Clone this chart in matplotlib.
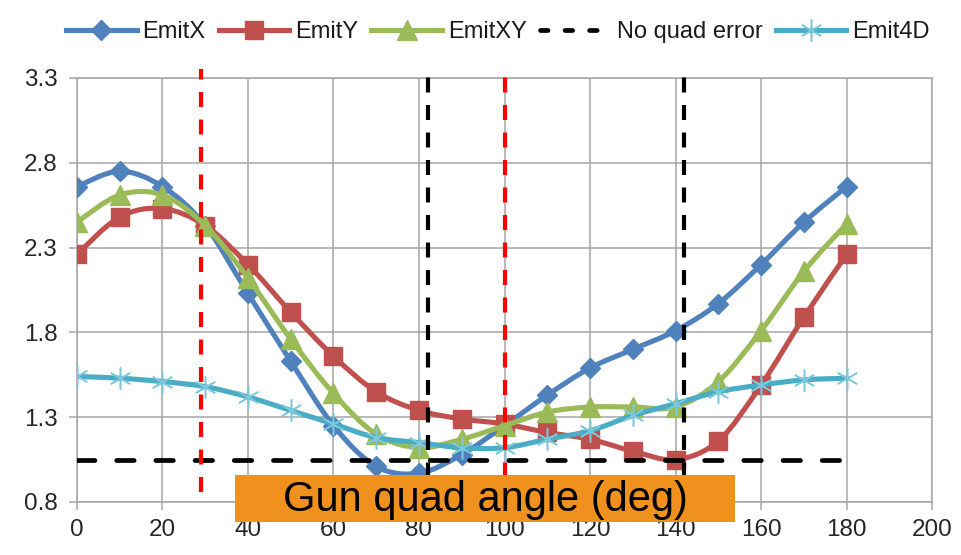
import numpy as np
import matplotlib
matplotlib.use("Agg")
import matplotlib.pyplot as plt
from matplotlib.path import Path
from matplotlib.patches import PathPatch, Rectangle
from matplotlib.lines import Line2D

plt.rcParams['font.family'] = ['Liberation Sans', 'DejaVu Sans']

# quad angle (deg)
angle = [0, 10, 20, 30, 40, 50, 60, 70, 80, 90, 100, 110, 120, 130, 140, 150, 160, 170, 180]

emit_x = [2.66, 2.75, 2.66, 2.43, 2.03, 1.63, 1.25, 1.01, 0.97, 1.08, 1.25,
          1.43, 1.59, 1.70, 1.81, 1.97, 2.20, 2.45, 2.66]
emit_y = [2.26, 2.48, 2.53, 2.43, 2.20, 1.92, 1.66, 1.45, 1.34, 1.29, 1.26,
          1.21, 1.17, 1.10, 1.05, 1.16, 1.49, 1.89, 2.26]
emit_xy = [2.45, 2.61, 2.61, 2.43, 2.12, 1.76, 1.44, 1.20, 1.12, 1.17, 1.25,
           1.33, 1.36, 1.36, 1.36, 1.51, 1.81, 2.16, 2.44]
emit_4d = [1.54, 1.53, 1.51, 1.48, 1.42, 1.34, 1.26, 1.18, 1.15, 1.12, 1.12,
           1.17, 1.22, 1.31, 1.38, 1.45, 1.49, 1.52, 1.53]
no_quad_x = [0, 180]
no_quad = [1.05, 1.05]

# marker lines at special angles
vline_x = [29, 82, 100, 142]
vline_color = ['#FF0000', 'black', '#FF0000', 'black']
vline_bottom = [0.86, 0.78, 0.78, 0.78]
vline_top = 3.355

BLUE = '#4F81BD'
RED = '#C0504D'
GREEN = '#9BBB59'
CYAN = '#4BACC6'


def smooth_path(xs, ys):
    # Excel-style smoothed line: cubic Bezier segments (Catmull-Rom control points)
    pts = np.column_stack([xs, ys]).astype(float)
    n = len(pts)
    verts = [pts[0]]
    codes = [Path.MOVETO]
    for i in range(n - 1):
        p0 = pts[i - 1] if i > 0 else pts[i]
        p1 = pts[i]
        p2 = pts[i + 1]
        p3 = pts[i + 2] if i + 2 < n else pts[i + 1]
        c1 = p1 + (p2 - p0) / 6.0
        c2 = p2 - (p3 - p1) / 6.0
        verts += [c1, c2, p2]
        codes += [Path.CURVE4] * 3
    return Path(verts, codes)


fig = plt.figure(figsize=(9.61, 5.55), dpi=100)
ax = fig.add_axes([0.080, 0.0955, 0.890, 0.764])

series = [
    (emit_x, BLUE, 'D', 10.5, 'EmitX'),
    (emit_y, RED, 's', 13, 'EmitY'),
    (emit_xy, GREEN, '^', 14, 'EmitXY'),
]
handles = []
z = 3
for ys, col, mk, ms, lab in series:
    ax.add_patch(PathPatch(smooth_path(angle, ys), facecolor='none', edgecolor=col,
                           lw=3.7, capstyle='round', joinstyle='round', zorder=z))
    ax.plot(angle, ys, linestyle='none', marker=mk, markersize=ms, color=col,
            markeredgecolor=col, zorder=z + 0.5)
    handles.append(Line2D([], [], color=col, lw=3.7, marker=mk, markersize=ms))
    z += 1

ax.plot(no_quad_x, no_quad, color='black', lw=3.4, dashes=(3.7, 4.6),
        dash_capstyle='round', zorder=z)
handles.append(Line2D([], [], color='black', lw=3.4, dashes=(1.6, 3.6),
                      dash_capstyle='round'))
z += 1

ax.add_patch(PathPatch(smooth_path(angle, emit_4d), facecolor='none', edgecolor=CYAN,
                       lw=3.7, capstyle='round', zorder=z))
ax.plot(angle, emit_4d, linestyle='none', marker=(6, 2, 0), markersize=16,
        markeredgewidth=1.1, color='#7CC8DC', zorder=z + 0.5)
handles.append(Line2D([], [], color=CYAN, lw=3.7, marker=(6, 2, 0), markersize=16,
                      markeredgewidth=1.1, markeredgecolor='#7CC8DC'))

for xv, col, yb in zip(vline_x, vline_color, vline_bottom):
    ax.plot([xv, xv], [yb, vline_top], color=col, lw=3.0, dashes=(3.6, 3.0),
            clip_on=False, zorder=10)

ax.set_xlim(0, 200)
ax.set_ylim(0.8, 3.3)
ax.set_xticks(np.arange(0, 201, 20))
ax.set_yticks([0.8, 1.3, 1.8, 2.3, 2.8, 3.3])
ax.set_yticklabels(['0.8', '1.3', '1.8', '2.3', '2.8', '3.3'])
ax.grid(True, color='#A6A6A6', lw=1.1)
ax.set_axisbelow(True)
for sp in ax.spines.values():
    sp.set_color('#A6A6A6')
    sp.set_linewidth(1.1)
ax.tick_params(axis='both', direction='out', length=6, width=1.1, color='#A6A6A6',
               labelsize=17.5, labelcolor='#262626')
ax.tick_params(axis='y', pad=8)
ax.tick_params(axis='x', pad=6)

labels = ['EmitX', 'EmitY', 'EmitXY', 'No quad error', 'Emit4D']
fig.legend(handles, labels, loc='upper center', bbox_to_anchor=(0.518, 1.0), ncol=5,
           frameon=False, fontsize=17, handlelength=3.0, handletextpad=0.25,
           columnspacing=0.55, labelcolor='#1a1a1a')

# axis title box
fig.patches.append(Rectangle((0.2445, 0.0595), 0.5203, 0.0846, transform=fig.transFigure,
                             facecolor='#F0911E', edgecolor='none', zorder=20))
fig.text(0.5047, 0.0985, 'Gun quad angle (deg)', ha='center', va='center',
         fontsize=30, color='black', zorder=21)

fig.savefig('out.png', dpi=100)
